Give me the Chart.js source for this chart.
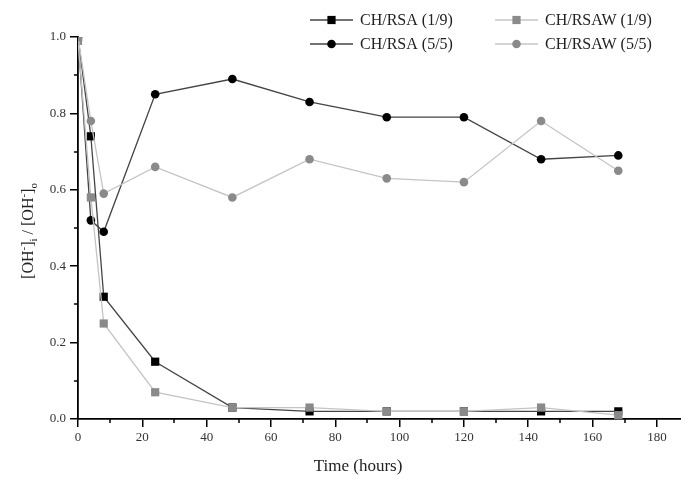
<!DOCTYPE html>
<html>
<head>
<meta charset="utf-8">
<script src="https://cdn.jsdelivr.net/npm/chart.js@4/dist/chart.umd.min.js"></script>
<style>
html,body{margin:0;padding:0;background:#fff;}
#wrap{width:681px;height:482px;position:relative;}
canvas{display:block;}
</style>
</head>
<body>
<div id="wrap"><canvas id="c" width="681" height="482"></canvas></div>
<script>
// ---- data ----
const timeHours = [0, 4, 8, 24, 48, 72, 96, 120, 144, 168];
const rsa19   = [1.00, 0.74, 0.32, 0.15, 0.03, 0.02, 0.02, 0.02, 0.02, 0.02];
const rsaw19  = [0.99, 0.58, 0.25, 0.07, 0.03, 0.03, 0.02, 0.02, 0.03, 0.01];
const rsa55   = [1.00, 0.52, 0.49, 0.85, 0.89, 0.83, 0.79, 0.79, 0.68, 0.69];
const rsaw55  = [1.00, 0.78, 0.59, 0.66, 0.58, 0.68, 0.63, 0.62, 0.78, 0.65];
const seriesNames = ["CH/RSA (1/9)", "CH/RSAW (1/9)", "CH/RSA (5/5)", "CH/RSAW (5/5)"];
const xTickValues = [0, 20, 40, 60, 80, 100, 120, 140, 160, 180];
const xMinorTicks = [10, 30, 50, 70, 90, 110, 130, 150, 170];
const yTickValues = [0.0, 0.2, 0.4, 0.6, 0.8, 1.0];
const yMinorTicks = [0.1, 0.3, 0.5, 0.7, 0.9];
const xTitle = "Time (hours)";

const pts = arr => timeHours.map((t, i) => ({x: t, y: arr[i]}));
const SERIF = "'Liberation Serif','DejaVu Serif',serif";

const styles = [
  {line: '#444', point: '#000', shape: 'rect', r: 5.8},
  {line: '#c4c4c4', point: '#8a8a8a', shape: 'rect', r: 5.8},
  {line: '#444', point: '#000', shape: 'circle', r: 4.3},
  {line: '#c4c4c4', point: '#8a8a8a', shape: 'circle', r: 4.3}
];
const values = [rsa19, rsaw19, rsa55, rsaw55];
const drawOrder = [3, 1, 2, 0]; // lower = on top

const datasets = values.map((v, i) => ({
  label: seriesNames[i],
  data: pts(v),
  borderColor: styles[i].line,
  borderWidth: 1.3,
  pointStyle: styles[i].shape,
  pointRadius: styles[i].r,
  pointBackgroundColor: styles[i].point,
  pointBorderColor: styles[i].point,
  pointBorderWidth: 0,
  tension: 0,
  clip: {left: 0, top: 0, right: 10, bottom: 10},
  order: drawOrder[i]
}));

const extras = {
  id: 'extras',
  afterDraw(chart) {
    const ctx = chart.ctx;
    const xs = chart.scales.x, ys = chart.scales.y;
    const ca = chart.chartArea;
    ctx.save();
    // minor ticks (outside, short)
    ctx.strokeStyle = '#000';
    ctx.lineWidth = 1.5;
    ctx.beginPath();
    xMinorTicks.forEach(v => {
      const px = Math.round(xs.getPixelForValue(v));
      ctx.moveTo(px, ca.bottom); ctx.lineTo(px, ca.bottom + 4);
    });
    yMinorTicks.forEach(v => {
      const py = Math.round(ys.getPixelForValue(v));
      ctx.moveTo(ca.left, py); ctx.lineTo(ca.left - 4, py);
    });
    ctx.stroke();

    // legend
    const legendPos = [
      {x: 310, y: 20}, {x: 495, y: 20}, {x: 310, y: 44}, {x: 495, y: 44}
    ];
    ctx.font = '16px ' + SERIF;
    ctx.textBaseline = 'middle';
    ctx.textAlign = 'left';
    legendPos.forEach((p, i) => {
      const s = styles[i];
      ctx.strokeStyle = s.line;
      ctx.lineWidth = 1.3;
      ctx.beginPath();
      ctx.moveTo(p.x, p.y); ctx.lineTo(p.x + 43, p.y);
      ctx.stroke();
      ctx.fillStyle = s.point;
      if (s.shape === 'rect') {
        const h = s.r * Math.SQRT1_2;
        ctx.fillRect(p.x + 21.5 - h, p.y - h, 2 * h, 2 * h);
      } else {
        ctx.beginPath();
        ctx.arc(p.x + 21.5, p.y, s.r, 0, Math.PI * 2);
        ctx.fill();
      }
      ctx.fillStyle = '#222';
      ctx.fillText(seriesNames[i], p.x + 50, p.y + 1);
    });

    // x title
    ctx.font = '17px ' + SERIF;
    ctx.fillStyle = '#222';
    ctx.textAlign = 'center';
    ctx.textBaseline = 'middle';
    ctx.fillText(xTitle, 358, 467);

    // y title with sub/superscripts
    ctx.translate(28, 231);
    ctx.rotate(-Math.PI / 2);
    const parts = [
      ['[OH', 0, 16], ['-', -6, 11], [']', 0, 16], ['i', 4, 11],
      [' / [OH', 0, 16], ['-', -6, 11], [']', 0, 16], ['o', 4, 11]
    ];
    let total = 0;
    parts.forEach(p => { ctx.font = p[2] + 'px ' + SERIF; total += ctx.measureText(p[0]).width; });
    let cx = -total / 2;
    ctx.textAlign = 'left';
    ctx.textBaseline = 'alphabetic';
    parts.forEach(p => {
      ctx.font = p[2] + 'px ' + SERIF;
      ctx.fillText(p[0], cx, 5 + p[1]);
      cx += ctx.measureText(p[0]).width;
    });
    ctx.restore();
  }
};

new Chart(document.getElementById('c'), {
  type: 'line',
  data: {datasets},
  options: {
    responsive: false,
    animation: false,
    devicePixelRatio: 1,
    layout: {autoPadding: false, padding: {top: 37, right: 0, left: 0, bottom: 0}},
    plugins: {legend: {display: false}, tooltip: {enabled: false}},
    scales: {
      x: {
        type: 'linear', min: 0, max: 187.5,
        afterBuildTicks: s => { s.ticks = xTickValues.map(v => ({value: v})); },
        afterFit: s => { s.height = 63; s.paddingRight = 0; s.paddingLeft = 0; },
        grid: {drawOnChartArea: false, drawTicks: true, tickLength: 8, color: '#000', lineWidth: 1.5},
        border: {display: true, color: '#000', width: 1.8},
        ticks: {color: '#333', font: {family: SERIF, size: 13}, padding: 3, maxRotation: 0,
                callback: v => String(v)}
      },
      y: {
        type: 'linear', min: 0, max: 1.0,
        afterBuildTicks: s => { s.ticks = yTickValues.map(v => ({value: v})); },
        afterFit: s => { s.width = 78; },
        grid: {drawOnChartArea: false, drawTicks: true, tickLength: 8, color: '#000', lineWidth: 1.5},
        border: {display: true, color: '#000', width: 1.8},
        ticks: {color: '#333', font: {family: SERIF, size: 13}, padding: 4,
                callback: v => Number(v).toFixed(1)}
      }
    }
  },
  plugins: [extras]
});
</script>
</body>
</html>
